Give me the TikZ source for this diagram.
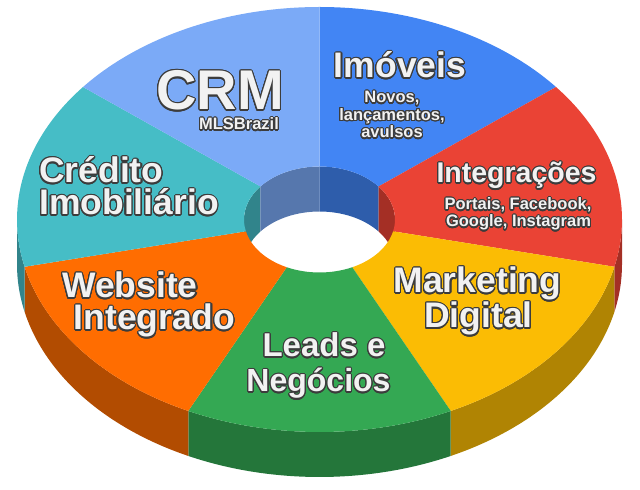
\documentclass[tikz,border=0pt]{standalone}
\usepackage{fontspec}
\setsansfont{Liberation Sans}
\usepackage[copies]{contour}
\usepackage{tikz}
\usetikzlibrary{calc}
\contourlength{1.1pt}
\contournumber{24}
\definecolor{crmBlue}{HTML}{7BAAF7}
\definecolor{homeBlue}{HTML}{4285F4}
\definecolor{integRed}{HTML}{EA4335}
\definecolor{mktYellow}{HTML}{FBBC04}
\definecolor{leadGreen}{HTML}{34A853}
\definecolor{webOrange}{HTML}{FF6D01}
\definecolor{credTeal}{HTML}{46BDC6}
\definecolor{lblFill}{HTML}{F2F2F2}
\definecolor{lblEdge}{HTML}{3C3C3C}

\begin{document}
\begin{tikzpicture}[
    x=1pt,y=1pt,
    lbl/.style={inner sep=0pt,anchor=base,text=lblFill},
    huge/.style={font=\sffamily\bfseries\fontsize{56}{56}\selectfont},
    big/.style={font=\sffamily\bfseries\fontsize{35.5}{35.5}\selectfont},
    mid/.style={font=\sffamily\bfseries\fontsize{28.5}{28.5}\selectfont},
    small/.style={font=\sffamily\bfseries\fontsize{16.5}{16.5}\selectfont}
  ]
  \useasboundingbox (0,0) rectangle (640,490);
  \coordinate (C) at (319.5,270.5);
  %% front wall of the ring
  \foreach \a/\b/\col in {0/-12.857/integRed, -12.857/-64.286/mktYellow,
                          -64.286/-115.714/leadGreen, -115.714/-167.143/webOrange,
                          -167.143/-180/credTeal}
    \fill[\col!70!black] ($(C)+(\a:302.5pt and 212.5pt)$)
      arc[start angle=\a,end angle=\b,x radius=302.5pt,y radius=212.5pt] -- ++(0,-45)
      arc[start angle=\b,end angle=\a,x radius=302.5pt,y radius=212.5pt] -- cycle;
  %% far wall inside the hole
  \foreach \a/\b/\col in {180/141.429/credTeal, 141.429/90/crmBlue,
                          90/38.571/homeBlue, 38.571/0/integRed}
    \fill[\col!70!black] ($(C)+(\a:75.5pt and 53pt)$)
      arc[start angle=\a,end angle=\b,x radius=75.5pt,y radius=53pt] -- ++(0,-45)
      arc[start angle=\b,end angle=\a,x radius=75.5pt,y radius=53pt] -- cycle;
  %% top faces
  \foreach \a/\b/\col in {90/38.571/homeBlue, 38.571/-12.857/integRed,
                          -12.857/-64.286/mktYellow, -64.286/-115.714/leadGreen,
                          -115.714/-167.143/webOrange, -167.143/-218.571/credTeal,
                          -218.571/-270/crmBlue}
    \fill[\col] ($(C)+(\a:302.5pt and 212.5pt)$)
      arc[start angle=\a,end angle=\b,x radius=302.5pt,y radius=212.5pt]
      -- ($(C)+(\b:75.5pt and 53pt)$)
      arc[start angle=\b,end angle=\a,x radius=75.5pt,y radius=53pt] -- cycle;
  %% labels
  \node[lbl,huge] (crm) at (220,380) {\contour{lblEdge}{CRM}};
  \node[lbl,small] (crmSub) at (239,360) {\contour{lblEdge}{MLSBrazil}};
  \node[lbl,big] (imoveis) at (400,412) {\contour{lblEdge}{Imóveis}};
  \node[lbl,small] (novos) at (392,387) {\contour{lblEdge}{Novos,}};
  \node[lbl,small] (lanc) at (392,369.5) {\contour{lblEdge}{lançamentos,}};
  \node[lbl,small] (avulsos) at (392,352) {\contour{lblEdge}{avulsos}};
  \node[lbl,mid] (integ) at (516.5,307) {\contour{lblEdge}{Integrações}};
  \node[lbl,small] (portais) at (518,280) {\contour{lblEdge}{Portais, Facebook,}};
  \node[lbl,small] (google) at (518.5,263) {\contour{lblEdge}{Google, Instagram}};
  \node[lbl,big,anchor=base west] (credito) at (39,307) {\contour{lblEdge}{Crédito}};
  \node[lbl,big,anchor=base west] (imob) at (39,275) {\contour{lblEdge}{Imobiliário}};
  \node[lbl,big] (website) at (130,192) {\contour{lblEdge}{Website}};
  \node[lbl,big] (integrado) at (154.5,160) {\contour{lblEdge}{Integrado}};
  \node[lbl,big] (marketing) at (477.5,197) {\contour{lblEdge}{Marketing}};
  \node[lbl,big] (digital) at (478.5,162) {\contour{lblEdge}{Digital}};
  \node[lbl,big,font=\sffamily\bfseries\fontsize{33}{33}\selectfont] (leads) at (324,133) {\contour{lblEdge}{Leads e}};
  \node[lbl,big,font=\sffamily\bfseries\fontsize{32}{32}\selectfont] (negocios) at (318.5,98) {\contour{lblEdge}{Negócios}};
\end{tikzpicture}
\end{document}
